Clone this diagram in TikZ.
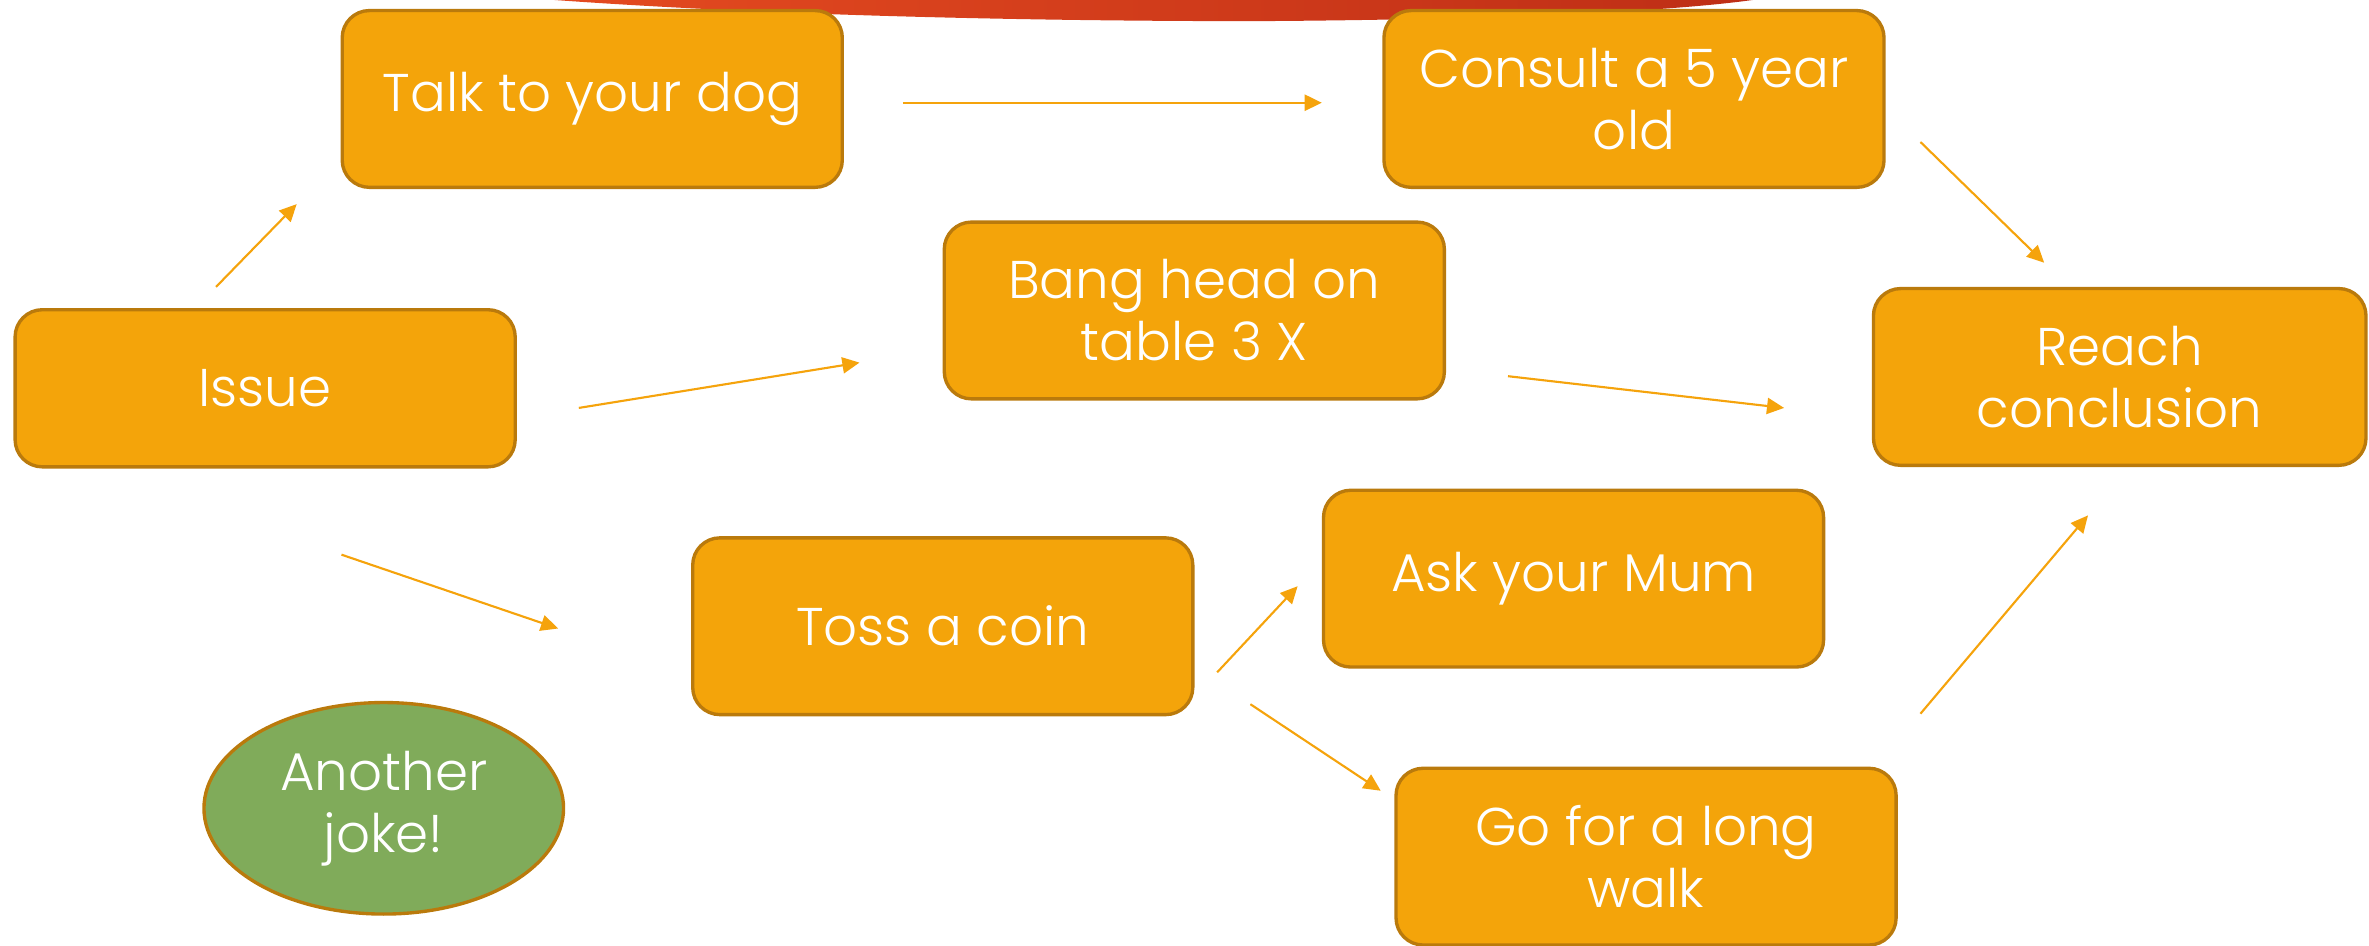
\documentclass[tikz,border=0pt]{standalone}
\usepackage{fontspec}
\setmainfont{Poppins Light}
\usetikzlibrary{arrows.meta,shapes.geometric}

\definecolor{boxfill}{RGB}{244,164,10}
\definecolor{boxline}{RGB}{186,122,12}
\definecolor{jokefill}{RGB}{128,171,90}
\definecolor{arrowcol}{RGB}{245,163,12}
\definecolor{redleft}{RGB}{228,74,32}
\definecolor{redright}{RGB}{190,46,22}

\begin{document}
\begin{tikzpicture}[x=0.15mm, y=-0.15mm,
  box/.style={draw=boxline, fill=boxfill, line width=0.95pt, rounded corners=2.7mm,
    minimum width=49.65mm, minimum height=17.55mm, inner sep=0pt,
    text=white, align=center, font=\fontsize{15}{17.5}\selectfont},
  joke/.style={ellipse, draw=boxline, fill=jokefill, line width=0.95pt,
    minimum width=35.7mm, minimum height=21mm, inner sep=0pt,
    text=white, align=center, font=\fontsize{15}{17.5}\selectfont},
  flow/.style={draw=arrowcol, line width=0.6pt, -{Triangle[length=1.7mm, width=1.6mm]}}]
 \useasboundingbox (0,0) rectangle (1568,626);

 % red banner at the top edge
 \shade[left color=redleft, right color=redright]
  (367,-20) -- (367,0) .. controls (520,11) and (700,14) .. (830,14)
  .. controls (1000,13) and (1110,7) .. (1160,0) -- (1160,-20) -- cycle;

 \node[box, minimum height=15.6mm] (issue) at (175.5,257) {Issue};
 \node[box] (talk) at (392,65.5) {Talk to your dog};
 \node[box] (consult) at (1081.5,65.5) {Consult a 5 year\\old};
 \node[box] (bang) at (790.5,205.5) {Bang head on\\table 3 X};
 \node[box, minimum width=48.9mm] (reach) at (1403,249.5) {Reach\\conclusion};
 \node[box] (toss) at (624,414.5) {Toss a coin};
 \node[box] (mum) at (1041.5,383) {Ask your Mum};
 \node[box] (walk) at (1089.5,567) {Go for a long\\walk};
 \node[joke] (another) at (254,535) {Another\\joke!};

 \draw[flow] ([shift={(-32.5,-14)}]issue.north) -- ([shift={(-29,10)}]talk.south west);
 \draw[flow] ([shift={(39,2.5)}]talk.east) -- ([shift={(-40,2.5)}]consult.west);
 \draw[flow] ([shift={(41,13)}]issue.east) -- ([shift={(-55,34.5)}]bang.west);
 \draw[flow] ([shift={(23,28.5)}]consult.east) -- ([shift={(-50,-16)}]reach.north);
 \draw[flow] ([shift={(41,43.5)}]bang.east) -- ([shift={(-58,20.5)}]reach.west);
 \draw[flow] ([shift={(50.5,57)}]issue.south) -- ([shift={(-88,1.5)}]toss.west);
 \draw[flow] ([shift={(15,30.5)}]toss.east) -- ([shift={(-16,5)}]mum.west);
 \draw[flow] ([shift={(37,-8)}]toss.south east) -- ([shift={(-9,16)}]walk.north west);
 \draw[flow] ([shift={(15,-35)}]walk.north east) -- ([shift={(-21,32)}]reach.south);
\end{tikzpicture}
\end{document}
